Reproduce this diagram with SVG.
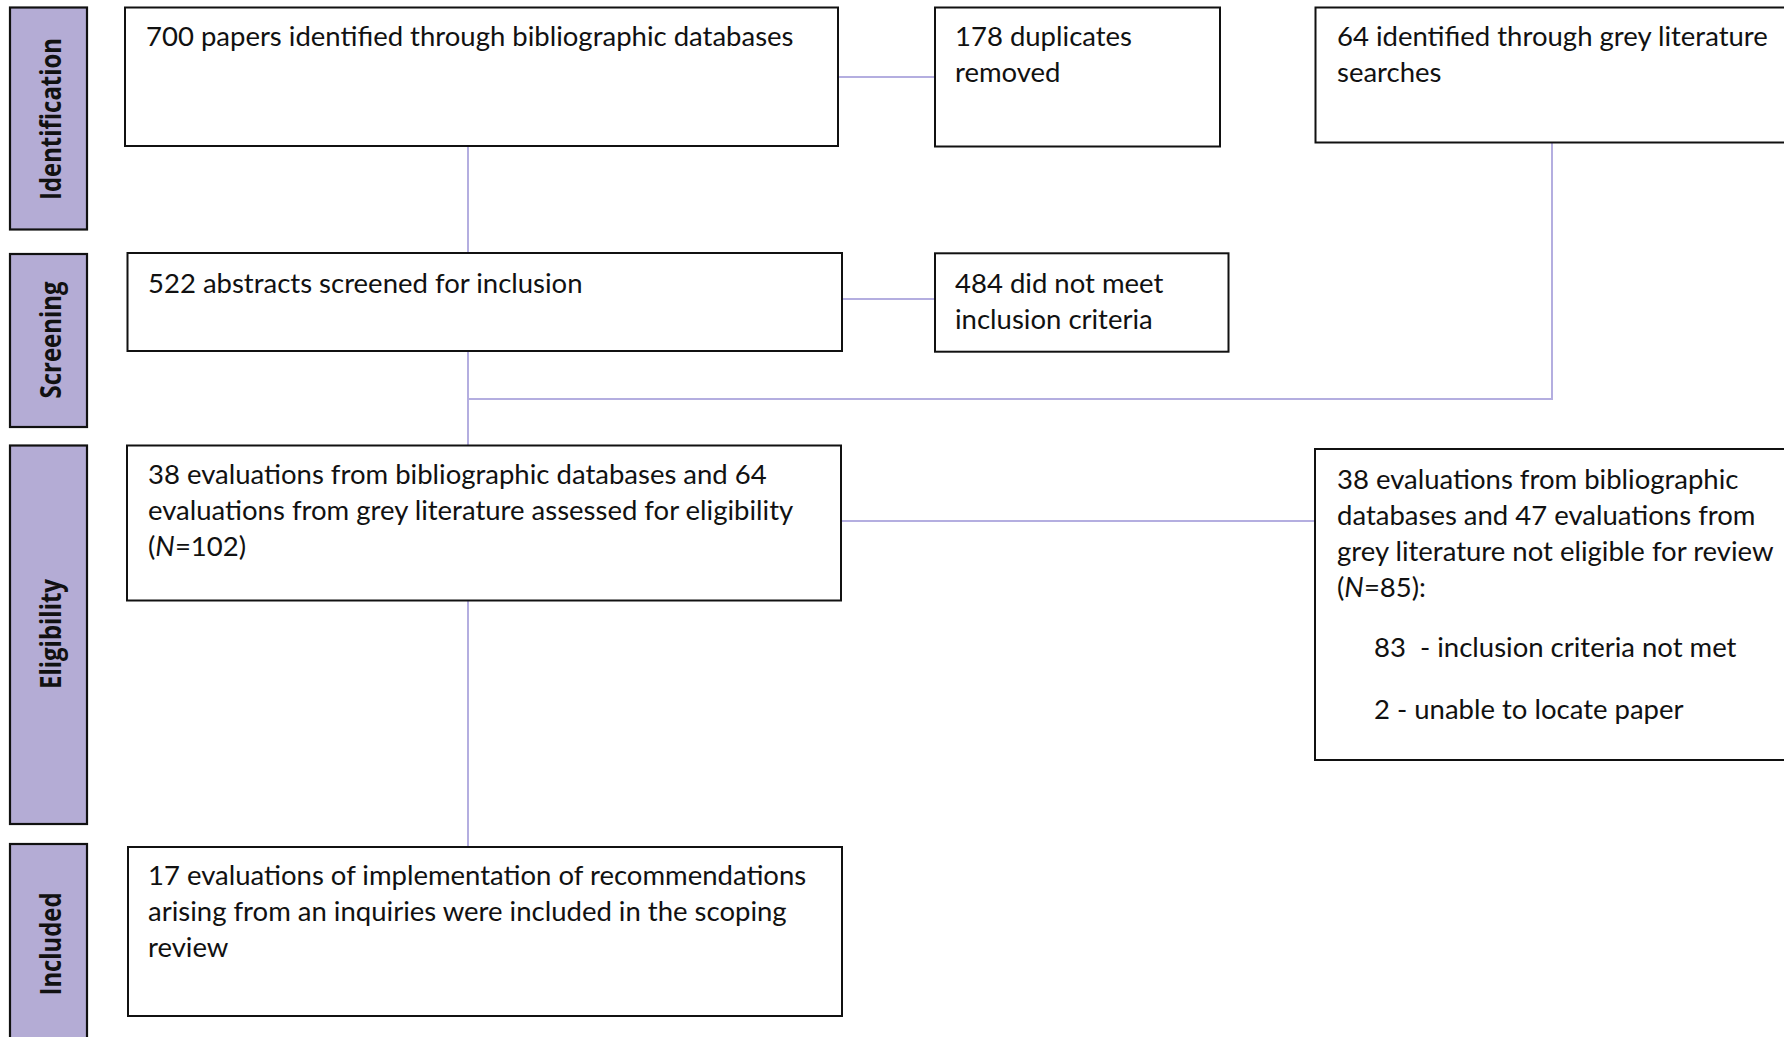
<svg xmlns="http://www.w3.org/2000/svg" width="1784" height="1037" viewBox="0 0 1784 1037">
<style>
.bg{fill:#ffffff}
.bar{fill:#b4acd5;stroke:#111;stroke-width:2.2}
.box{fill:#ffffff;stroke:#111;stroke-width:2}
.lbl{font-family:"Open Sans","DejaVu Sans",sans-serif;font-weight:bold;font-size:29px;fill:#111;text-anchor:middle}
.t{font-family:Lato,"Liberation Sans",sans-serif;font-size:27.5px;fill:#111;white-space:pre}
.con{fill:none;stroke:#b4aee0;stroke-width:2}
</style>
<rect class="bg" x="0" y="0" width="1784" height="1037"/>
<g id="phases">
  <g id="phase-identification">
    <rect class="bar" x="10" y="7.5" width="77" height="222"/>
    <text class="lbl" transform="translate(61,119) rotate(-90)" textLength="162" lengthAdjust="spacingAndGlyphs">Identification</text>
  </g>
  <g id="phase-screening">
    <rect class="bar" x="10" y="254" width="77" height="173"/>
    <text class="lbl" transform="translate(61,340) rotate(-90)" textLength="117" lengthAdjust="spacingAndGlyphs">Screening</text>
  </g>
  <g id="phase-eligibility">
    <rect class="bar" x="10" y="445.5" width="77" height="378.5"/>
    <text class="lbl" transform="translate(61,634) rotate(-90)" textLength="110" lengthAdjust="spacingAndGlyphs">Eligibility</text>
  </g>
  <g id="phase-included">
    <rect class="bar" x="10" y="844" width="77" height="210"/>
    <text class="lbl" transform="translate(61,944) rotate(-90)" textLength="103" lengthAdjust="spacingAndGlyphs">Included</text>
  </g>
</g>
<g id="connectors">
  <line class="con" x1="838" y1="77" x2="935" y2="77"/>
  <line class="con" x1="842" y1="299" x2="935" y2="299"/>
  <line class="con" x1="468" y1="146" x2="468" y2="253"/>
  <line class="con" x1="468" y1="351" x2="468" y2="445.5"/>
  <polyline class="con" points="1552,143 1552,399 468,399"/>
  <line class="con" x1="841" y1="521" x2="1315" y2="521"/>
  <line class="con" x1="468" y1="600.5" x2="468" y2="847"/>
</g>
<g id="node-databases">
  <rect class="box" x="125" y="7.5" width="713" height="138.5"/>
  <text class="t" x="146" y="45.5">700 papers identified through bibliographic databases</text>
</g>
<g id="node-duplicates">
  <rect class="box" x="935" y="7.5" width="285" height="139"/>
  <text class="t" x="955" y="45.5">178 duplicates</text>
  <text class="t" x="955" y="81.5">removed</text>
</g>
<g id="node-grey">
  <rect class="box" x="1315.5" y="7.5" width="500" height="135"/>
  <text class="t" x="1337" y="45.5">64 identified through grey literature</text>
  <text class="t" x="1337" y="81.5">searches</text>
</g>
<g id="node-screened">
  <rect class="box" x="127.5" y="253" width="714.5" height="98"/>
  <text class="t" x="148" y="293">522 abstracts screened for inclusion</text>
</g>
<g id="node-excluded-screening">
  <rect class="box" x="935" y="253.3" width="293.5" height="98.4"/>
  <text class="t" x="955" y="292.5">484 did not meet</text>
  <text class="t" x="955" y="328.5">inclusion criteria</text>
</g>
<g id="node-eligibility">
  <rect class="box" x="127" y="445.5" width="714" height="155"/>
  <text class="t" x="148" y="484">38 evaluations from bibliographic databases and 64</text>
  <text class="t" x="148" y="520">evaluations from grey literature assessed for eligibility</text>
  <text class="t" x="148" y="556">(<tspan font-style="italic">N</tspan>=102)</text>
</g>
<g id="node-not-eligible">
  <rect class="box" x="1315" y="449" width="500" height="311"/>
  <text class="t" x="1337" y="489">38 evaluations from bibliographic</text>
  <text class="t" x="1337" y="525">databases and 47 evaluations from</text>
  <text class="t" x="1337" y="561">grey literature not eligible for review</text>
  <text class="t" x="1337" y="597">(<tspan font-style="italic">N</tspan>=85):</text>
  <text class="t" x="1374" y="657">83  - inclusion criteria not met</text>
  <text class="t" x="1374" y="719">2 - unable to locate paper</text>
</g>
<g id="node-included">
  <rect class="box" x="128" y="847" width="714" height="169"/>
  <text class="t" x="148" y="885">17 evaluations of implementation of recommendations</text>
  <text class="t" x="148" y="921">arising from an inquiries were included in the scoping</text>
  <text class="t" x="148" y="957">review</text>
</g>
</svg>
